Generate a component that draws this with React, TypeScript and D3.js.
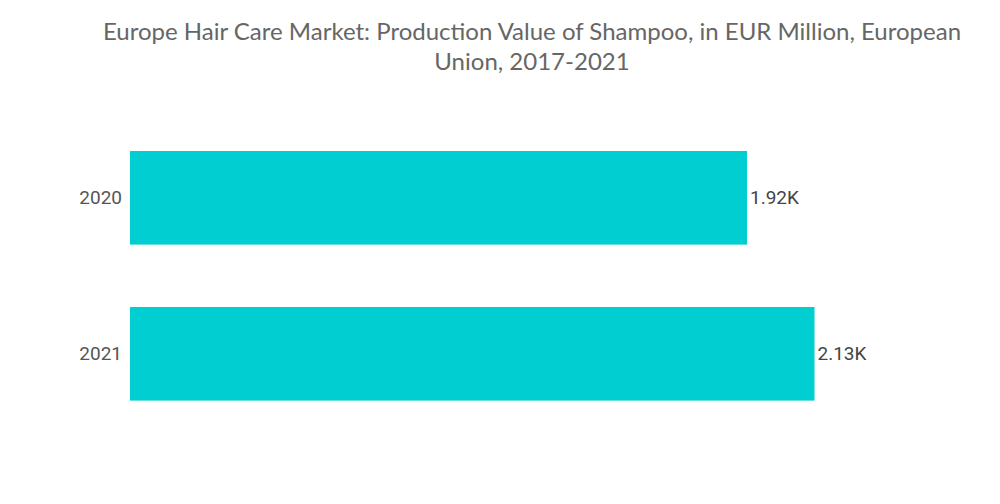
import React from "react";
import * as d3 from "d3";

const categories = ["2020", "2021"];
const values = [1920, 2130];
const valueLabels = ["1.92K", "2.13K"];
const titleLines = [
  "Europe Hair Care Market: Production Value of Shampoo, in EUR Million, European",
  "Union, 2017-2021",
];

export default function App() {
  const W = 1000, H = 504;
  const x = d3.scaleLinear().domain([0, 2130]).range([130, 814.5]);
  const y = d3.scaleBand<string>().domain(categories).range([119.8, 431.8]).paddingInner(0.4).paddingOuter(0.2);
  return (
    <svg width={W} height={H} style={{ position: "absolute", left: 0, top: 0, background: "#fff" }}>
      {titleLines.map((t, i) => (
        <text key={i} x={532} y={40 + i * 30} textAnchor="middle" fontFamily="Lato, 'Open Sans', sans-serif" fontSize={24} fill="#666">
          {t}
        </text>
      ))}
      {categories.map((c, i) => (
        <g key={c}>
          <rect x={x(0)} y={y(c)} width={x(values[i]) - x(0)} height={y.bandwidth()} fill="#00CED1" />
          <text x={122} y={(y(c) as number) + y.bandwidth() / 2} dy="0.35em" textAnchor="end" fontFamily="Roboto, sans-serif" fontSize={19} fill="#555">
            {c}
          </text>
          <text x={x(values[i]) + 3} y={(y(c) as number) + y.bandwidth() / 2} dy="0.35em" textAnchor="start" fontFamily="Roboto, sans-serif" fontSize={19} fill="#444">
            {valueLabels[i]}
          </text>
        </g>
      ))}
    </svg>
  );
}
